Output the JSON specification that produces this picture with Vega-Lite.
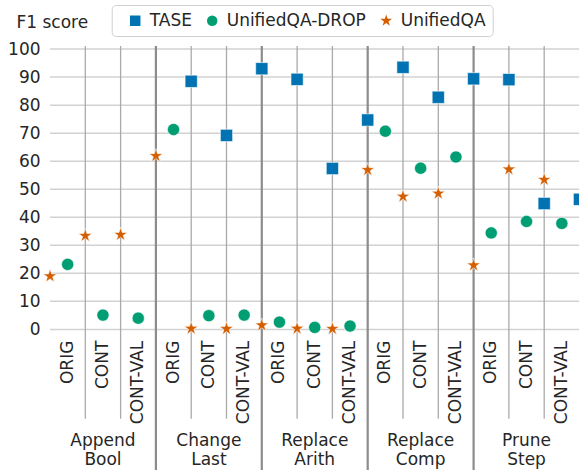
{
  "$schema": "https://vega.github.io/schema/vega-lite/v6.json",
  "width": 529.5,
  "height": 286.2,
  "autosize": {"type": "none"},
  "padding": {"left": 50, "top": 46, "right": 0, "bottom": 138},
  "config": {
    "font": "DejaVu Sans",
    "view": {"stroke": null},
    "axis": {"labelColor": "#262626", "titleColor": "#262626", "labelFont": "DejaVu Sans", "titleFont": "DejaVu Sans"},
    "legend": {"labelColor": "#262626", "labelFont": "DejaVu Sans"}
  },
  "datasets": {
    "scores": [
      {"col": "Append Bool|ORIG", "model": "UnifiedQA", "f1": 19.0},
      {"col": "Append Bool|CONT", "model": "UnifiedQA", "f1": 33.4},
      {"col": "Append Bool|CONT-VAL", "model": "UnifiedQA", "f1": 33.8},
      {"col": "Append Bool|ORIG", "model": "UnifiedQA-DROP", "f1": 23.2},
      {"col": "Append Bool|CONT", "model": "UnifiedQA-DROP", "f1": 5.1},
      {"col": "Append Bool|CONT-VAL", "model": "UnifiedQA-DROP", "f1": 4.0},
      {"col": "Change Last|ORIG", "model": "UnifiedQA", "f1": 61.9},
      {"col": "Change Last|CONT", "model": "UnifiedQA", "f1": 0.3},
      {"col": "Change Last|CONT-VAL", "model": "UnifiedQA", "f1": 0.2},
      {"col": "Change Last|ORIG", "model": "UnifiedQA-DROP", "f1": 71.3},
      {"col": "Change Last|CONT", "model": "UnifiedQA-DROP", "f1": 4.9},
      {"col": "Change Last|CONT-VAL", "model": "UnifiedQA-DROP", "f1": 5.1},
      {"col": "Change Last|ORIG", "model": "TASE", "f1": 88.5},
      {"col": "Change Last|CONT", "model": "TASE", "f1": 69.2},
      {"col": "Change Last|CONT-VAL", "model": "TASE", "f1": 93.0},
      {"col": "Replace Arith|ORIG", "model": "UnifiedQA", "f1": 1.5},
      {"col": "Replace Arith|CONT", "model": "UnifiedQA", "f1": 0.3},
      {"col": "Replace Arith|CONT-VAL", "model": "UnifiedQA", "f1": 0.2},
      {"col": "Replace Arith|ORIG", "model": "UnifiedQA-DROP", "f1": 2.6},
      {"col": "Replace Arith|CONT", "model": "UnifiedQA-DROP", "f1": 0.7},
      {"col": "Replace Arith|CONT-VAL", "model": "UnifiedQA-DROP", "f1": 1.2},
      {"col": "Replace Arith|ORIG", "model": "TASE", "f1": 89.2},
      {"col": "Replace Arith|CONT", "model": "TASE", "f1": 57.4},
      {"col": "Replace Arith|CONT-VAL", "model": "TASE", "f1": 74.7},
      {"col": "Replace Comp|ORIG", "model": "UnifiedQA", "f1": 56.9},
      {"col": "Replace Comp|CONT", "model": "UnifiedQA", "f1": 47.4},
      {"col": "Replace Comp|CONT-VAL", "model": "UnifiedQA", "f1": 48.5},
      {"col": "Replace Comp|ORIG", "model": "UnifiedQA-DROP", "f1": 70.7},
      {"col": "Replace Comp|CONT", "model": "UnifiedQA-DROP", "f1": 57.5},
      {"col": "Replace Comp|CONT-VAL", "model": "UnifiedQA-DROP", "f1": 61.5},
      {"col": "Replace Comp|ORIG", "model": "TASE", "f1": 93.5},
      {"col": "Replace Comp|CONT", "model": "TASE", "f1": 82.8},
      {"col": "Replace Comp|CONT-VAL", "model": "TASE", "f1": 89.4},
      {"col": "Prune Step|ORIG", "model": "UnifiedQA", "f1": 22.9},
      {"col": "Prune Step|CONT", "model": "UnifiedQA", "f1": 57.1},
      {"col": "Prune Step|CONT-VAL", "model": "UnifiedQA", "f1": 53.4},
      {"col": "Prune Step|ORIG", "model": "UnifiedQA-DROP", "f1": 34.4},
      {"col": "Prune Step|CONT", "model": "UnifiedQA-DROP", "f1": 38.5},
      {"col": "Prune Step|CONT-VAL", "model": "UnifiedQA-DROP", "f1": 37.8},
      {"col": "Prune Step|ORIG", "model": "TASE", "f1": 89.1},
      {"col": "Prune Step|CONT", "model": "TASE", "f1": 44.9},
      {"col": "Prune Step|CONT-VAL", "model": "TASE", "f1": 46.4}
    ],
    "gridValues": [
      {"v": 0}, {"v": 10}, {"v": 20}, {"v": 30}, {"v": 40}, {"v": 50},
      {"v": 60}, {"v": 70}, {"v": 80}, {"v": 90}, {"v": 100}
    ],
    "thinLines": [
      {"col": "Append Bool|CONT"}, {"col": "Append Bool|CONT-VAL"},
      {"col": "Change Last|CONT"}, {"col": "Change Last|CONT-VAL"},
      {"col": "Replace Arith|CONT"}, {"col": "Replace Arith|CONT-VAL"},
      {"col": "Replace Comp|CONT"}, {"col": "Replace Comp|CONT-VAL"},
      {"col": "Prune Step|CONT"}, {"col": "Prune Step|CONT-VAL"}
    ],
    "thickLines": [
      {"col": "Change Last|ORIG"}, {"col": "Replace Arith|ORIG"},
      {"col": "Replace Comp|ORIG"}, {"col": "Prune Step|ORIG"}
    ],
    "groups": [
      {"col": "Append Bool|CONT", "label": "Append\nBool"},
      {"col": "Change Last|CONT", "label": "Change\nLast"},
      {"col": "Replace Arith|CONT", "label": "Replace\nArith"},
      {"col": "Replace Comp|CONT", "label": "Replace\nComp"},
      {"col": "Prune Step|CONT", "label": "Prune\nStep"}
    ]
  },
  "layer": [
    {
      "data": {"name": "scores"},
      "mark": {"type": "point", "opacity": 0},
      "encoding": {
        "x": {"field": "col", "type": "nominal", "title": null,
              "scale": {"domain": ["Append Bool|ORIG","Append Bool|CONT","Append Bool|CONT-VAL","Change Last|ORIG","Change Last|CONT","Change Last|CONT-VAL","Replace Arith|ORIG","Replace Arith|CONT","Replace Arith|CONT-VAL","Replace Comp|ORIG","Replace Comp|CONT","Replace Comp|CONT-VAL","Prune Step|ORIG","Prune Step|CONT","Prune Step|CONT-VAL"], "paddingInner": 0, "paddingOuter": 0},
              "axis": {"labelExpr": "split(datum.value, '|')[1]", "labelAngle": -90, "labelFontSize": 17, "tickSize": 0, "domain": false, "grid": false, "labelPadding": 8, "labelOverlap": false}},
        "y": {"field": "f1", "type": "quantitative",
              "scale": {"domain": [-1, 101.1], "nice": false, "zero": false},
              "axis": {"tickCount": 11, "labelOverlap": false, "grid": false, "domain": false, "tickSize": 0, "labelFontSize": 17, "labelPadding": 10,
                       "title": "F1 score", "titleAngle": 0, "titleX": -34, "titleY": -18, "titleAlign": "left", "titleBaseline": "alphabetic", "titleFontWeight": "normal", "titleFontSize": 17}}
      }
    },
    {
      "data": {"name": "gridValues"},
      "mark": {"type": "rule", "color": "#d2d2d2", "strokeWidth": 1.5},
      "encoding": {
        "y": {"field": "v", "type": "quantitative"}
      }
    },
    {
      "data": {"name": "thinLines"},
      "mark": {"type": "rule", "color": "#aaaaaa", "strokeWidth": 1.3},
      "encoding": {
        "x": {"field": "col", "type": "nominal", "bandPosition": 0},
        "y": {"datum": 101.1, "type": "quantitative"},
        "y2": {"datum": -31.9}
      }
    },
    {
      "data": {"name": "thickLines"},
      "mark": {"type": "rule", "color": "#8c8c8c", "strokeWidth": 2.2},
      "encoding": {
        "x": {"field": "col", "type": "nominal", "bandPosition": 0},
        "y": {"datum": 101.1, "type": "quantitative"},
        "y2": {"datum": -60}
      }
    },
    {
      "data": {"name": "scores"},
      "mark": {"type": "point", "filled": true, "opacity": 1, "size": 150, "stroke": "white", "strokeWidth": 1, "strokeOpacity": 0.6},
      "encoding": {
        "x": {"field": "col", "type": "nominal"},
        "xOffset": {"field": "model", "type": "nominal",
                    "scale": {"domain": ["UnifiedQA", "UnifiedQA-DROP", "TASE"], "paddingInner": 0, "paddingOuter": 0}},
        "y": {"field": "f1", "type": "quantitative"},
        "color": {"field": "model", "type": "nominal",
                  "scale": {"domain": ["TASE", "UnifiedQA-DROP", "UnifiedQA"], "range": ["#0173B2", "#029E73", "#D55E00"]},
                  "legend": {"title": null, "orient": "none", "legendX": 61.7, "legendY": -41, "direction": "horizontal",
                             "strokeColor": "#d0d0d0", "cornerRadius": 4, "padding": 7, "fillColor": "white",
                             "labelFontSize": 17, "symbolSize": 110, "symbolOffset": 8, "columnPadding": 3, "labelOffset": 6, "symbolStrokeWidth": 0}},
        "shape": {"field": "model", "type": "nominal",
                  "scale": {"domain": ["TASE", "UnifiedQA-DROP", "UnifiedQA"], "range": ["square", "circle", "M0,-1.18L0.265,-0.365L1.122,-0.365L0.429,0.139L0.694,0.955L0,0.451L-0.694,0.955L-0.429,0.139L-1.122,-0.365L-0.265,-0.365Z"]}}
      }
    },
    {
      "data": {"name": "groups"},
      "mark": {"type": "text", "lineBreak": "\n", "fontSize": 17, "align": "center", "baseline": "alphabetic", "lineHeight": 19.5, "color": "#262626"},
      "encoding": {
        "x": {"field": "col", "type": "nominal"},
        "y": {"datum": -41.6, "type": "quantitative"},
        "text": {"field": "label"}
      }
    }
  ]
}
